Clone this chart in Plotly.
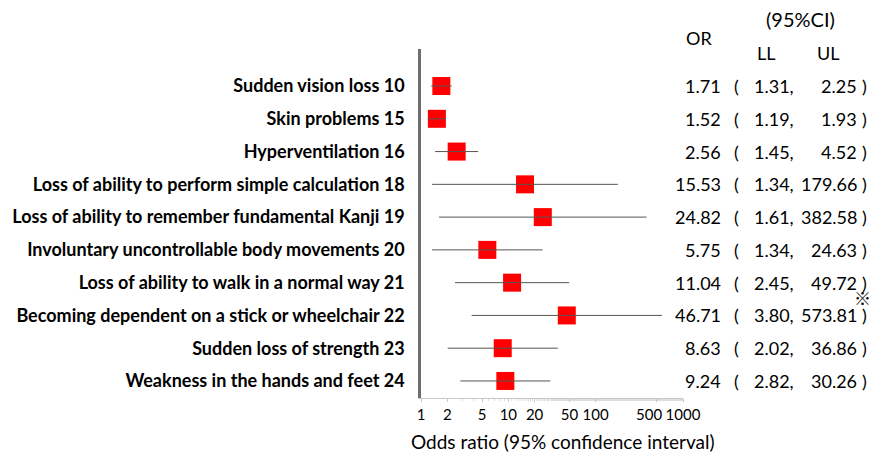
import plotly.graph_objects as go

labels = [
    "Sudden vision loss 10",
    "Skin problems 15",
    "Hyperventilation 16",
    "Loss of ability to perform simple calculation 18",
    "Loss of ability to remember fundamental Kanji 19",
    "Involuntary uncontrollable body movements 20",
    "Loss of ability to walk in a normal way 21",
    "Becoming dependent on a stick or wheelchair 22",
    "Sudden loss of strength 23",
    "Weakness in the hands and feet 24",
]
odds = [1.71, 1.52, 2.56, 15.53, 24.82, 5.75, 11.04, 46.71, 8.63, 9.24]
lower = [1.31, 1.19, 1.45, 1.34, 1.61, 1.34, 2.45, 3.80, 2.02, 2.82]
upper = [2.25, 1.93, 4.52, 179.66, 382.58, 24.63, 49.72, 573.81, 36.86, 30.26]
x_ticks = [1, 2, 5, 10, 20, 50, 100, 500, 1000]
x_tick_text = ["1", "2", "5", "10", "20", "50", "100",
               "500&nbsp;&nbsp;&nbsp;&nbsp;", "1000"]

W, H = 874, 455
L, R, T, B = 421, 191, 49, 57
PW, PH = W - L - R, H - T - B


def px(x):
    return (x - L) / PW


def py(y):
    return (H - B - y) / PH


rows = list(range(len(labels)))

fig = go.Figure()

fig.add_trace(go.Scatter(
    x=odds, y=rows, mode="markers",
    marker=dict(symbol="square", size=18, color="#ff0000", line=dict(width=0)),
    showlegend=False, hoverinfo="skip", cliponaxis=False,
))

ci_x, ci_y = [], []
for lo, hi, r in zip(lower, upper, rows):
    ci_x += [lo, hi, None]
    ci_y += [r, r, None]
fig.add_trace(go.Scatter(
    x=ci_x, y=ci_y, mode="lines",
    line=dict(color="#555555", width=1),
    showlegend=False, hoverinfo="skip",
))

num_font = dict(family="Lato", size=18, color="#000000")
ann = []
for o, lo, hi, r in zip(odds, lower, upper, rows):
    ann.append(dict(x=px(723), y=r, xref="paper", yref="y", text=f"{o:.2f}",
                    xanchor="right", yanchor="middle", showarrow=False, font=num_font))
    ann.append(dict(x=px(732), y=r, xref="paper", yref="y", text="(",
                    xanchor="left", yanchor="middle", showarrow=False, font=num_font))
    ann.append(dict(x=px(796), y=r, xref="paper", yref="y", text=f"{lo:.2f},",
                    xanchor="right", yanchor="middle", showarrow=False, font=num_font))
    ann.append(dict(x=px(859), y=r, xref="paper", yref="y", text=f"{hi:.2f}",
                    xanchor="right", yanchor="middle", showarrow=False, font=num_font))
    ann.append(dict(x=px(860), y=r, xref="paper", yref="y", text=")",
                    xanchor="left", yanchor="middle", showarrow=False, font=num_font))

ann += [
    dict(x=px(699), y=py(38), xref="paper", yref="paper", text="OR",
         xanchor="center", yanchor="middle", showarrow=False, font=num_font),
    dict(x=px(800), y=py(19), xref="paper", yref="paper", text="(95%CI)",
         xanchor="center", yanchor="middle", showarrow=False,
         font=dict(family="Lato", size=20, color="#000000")),
    dict(x=px(766), y=py(53), xref="paper", yref="paper", text="LL",
         xanchor="center", yanchor="middle", showarrow=False, font=num_font),
    dict(x=px(828), y=py(53), xref="paper", yref="paper", text="UL",
         xanchor="center", yanchor="middle", showarrow=False, font=num_font),
    dict(x=px(862), y=py(297), xref="paper", yref="paper", text="※",
         xanchor="center", yanchor="middle", showarrow=False,
         font=dict(family="Noto Sans CJK JP", size=17, color="#000000")),
    dict(x=px(563), y=py(441), xref="paper", yref="paper",
         text="Odds ratio (95% confidence interval)",
         xanchor="center", yanchor="middle", showarrow=False,
         font=dict(family="Lato", size=19, color="#000000")),
]

fig.update_layout(
    width=W, height=H,
    margin=dict(l=L, r=R, t=T, b=B, pad=0, autoexpand=False),
    paper_bgcolor="white", plot_bgcolor="white",
    annotations=ann,
    xaxis=dict(
        type="log", range=[0, 3],
        tickvals=x_ticks, ticktext=x_tick_text,
        tickangle=0, automargin=False,
        ticks="outside", ticklen=3, tickcolor="#c8c8c8", tickwidth=1,
        showline=True, linecolor="#c8c8c8", linewidth=1,
        showgrid=False, zeroline=False,
        tickfont=dict(family="Lato", size=15, color="#000000"),
        minor=dict(ticks="outside", ticklen=2, tickcolor="#dddddd", showgrid=False),
    ),
    yaxis=dict(
        range=[9.52, -1.13], automargin=False,
        tickvals=rows, ticktext=labels,
        ticks="", showline=True, linecolor="#6e6e6e", linewidth=2.5,
        showgrid=False, zeroline=False,
        ticklabelstandoff=10,
        tickfont=dict(family="Lato", size=18, color="#000000", weight="bold"),
    ),
)

fig.write_html("out.html", config={"displayModeBar": False},
               post_script="document.body.style.margin='0';")
